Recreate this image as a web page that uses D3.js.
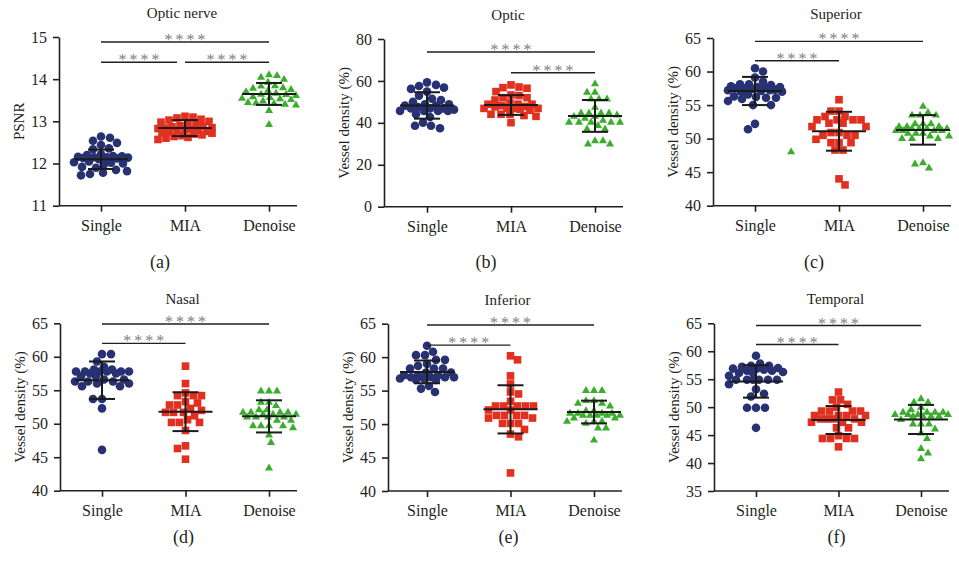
<!DOCTYPE html>
<html>
<head>
<meta charset="utf-8">
<script src="https://cdn.jsdelivr.net/npm/d3@7"></script>
<style>
  body { margin: 0; background: #fff; }
  svg { display: block; }
  text { font-family: "Liberation Serif", "Times New Roman", serif; fill: #231f20; }
</style>
</head>
<body>
<svg id="chart" width="959" height="561"></svg>
<script>
// Groups and panel text
var groups = ["Single", "MIA", "Denoise"];
var panelTitles = ["Optic nerve", "Optic", "Superior", "Nasal", "Inferior", "Temporal"];
var panelLetters = ["(a)", "(b)", "(c)", "(d)", "(e)", "(f)"];
var yLabels = ["PSNR", "Vessel density (%)", "Vessel density (%)", "Vessel density (%)", "Vessel density (%)", "Vessel density (%)"];
var yDomains = [[11, 15], [0, 80], [40, 65], [40, 65], [40, 65], [35, 65]];
var yTicks = [
  [11, 12, 13, 14, 15],
  [0, 20, 40, 60, 80],
  [40, 45, 50, 55, 60, 65],
  [40, 45, 50, 55, 60, 65],
  [40, 45, 50, 55, 60, 65],
  [35, 40, 45, 50, 55, 60, 65]
];

// Values, one list per panel
var singleValues = [
  [12.64, 12.61, 12.54, 12.49, 12.44, 12.36, 12.34, 12.22, 12.2, 12.18, 12.17, 12.16, 12.15, 12.15, 12.14, 12.13, 12.12, 12.1, 12.05, 12.03, 12.02, 12.0, 11.98, 11.92, 11.9, 11.85, 11.82, 11.78, 11.75, 11.72],
  [59.3, 58.1, 57.6, 56.8, 56.2, 54.9, 53.0, 51.5, 50.9, 50.1, 48.9, 48.9, 48.2, 48.2, 47.5, 46.9, 46.9, 46.9, 46.3, 45.7, 45.7, 45.7, 45.7, 44.1, 42.8, 40.1, 38.6, 38.6, 37.4],
  [60.5, 60.0, 59.1, 58.5, 58.1, 58.1, 58.0, 57.8, 57.7, 57.7, 57.6, 57.5, 57.5, 57.4, 57.3, 57.2, 57.2, 57.1, 57.0, 57.0, 56.6, 56.3, 56.2, 56.1, 56.1, 55.9, 55.6, 55.0, 55.0, 52.2, 51.4],
  [60.4, 60.4, 59.3, 58.5, 58.1, 58.1, 57.8, 57.8, 57.8, 57.8, 57.8, 57.8, 57.5, 57.5, 57.1, 57.1, 56.6, 56.6, 56.3, 56.3, 56.3, 56.0, 56.0, 55.6, 55.6, 53.7, 53.7, 52.3, 46.1],
  [61.7, 60.8, 60.3, 60.3, 59.6, 59.6, 59.0, 58.7, 58.3, 58.3, 58.3, 57.7, 57.7, 57.3, 57.3, 57.3, 57.0, 57.0, 57.0, 57.0, 56.8, 56.8, 56.6, 56.6, 55.7, 55.3, 54.8],
  [59.2, 57.8, 57.4, 57.4, 57.2, 57.0, 56.9, 56.9, 56.7, 56.5, 56.5, 56.3, 56.1, 56.1, 55.6, 54.9, 54.9, 54.9, 54.9, 54.9, 54.9, 54.1, 53.2, 52.4, 51.9, 49.9, 49.9, 49.9, 46.3]
];
var miaValues = [
  [13.12, 13.1, 13.08, 13.05, 13.03, 13.0, 12.98, 12.95, 12.93, 12.9, 12.88, 12.87, 12.85, 12.84, 12.83, 12.82, 12.8, 12.79, 12.78, 12.76, 12.75, 12.73, 12.72, 12.7, 12.68, 12.66, 12.64, 12.62, 12.6, 12.57],
  [58.1, 57.1, 56.8, 56.5, 54.9, 53.3, 53.0, 52.0, 52.0, 50.9, 49.5, 48.9, 48.9, 48.9, 48.2, 47.8, 47.6, 46.9, 46.9, 46.9, 46.9, 46.5, 46.0, 44.1, 44.1, 44.1, 43.5, 43.1, 40.1],
  [55.8, 54.1, 54.1, 53.3, 53.3, 52.8, 52.8, 52.8, 52.8, 52.3, 52.3, 51.8, 51.8, 50.9, 50.9, 50.5, 50.5, 50.5, 49.9, 49.4, 49.4, 49.4, 48.3, 48.3, 44.0, 43.1],
  [58.6, 56.0, 54.6, 54.2, 54.2, 54.2, 53.3, 53.1, 52.8, 52.8, 52.3, 52.0, 51.7, 51.7, 51.7, 51.2, 50.6, 50.2, 50.2, 50.2, 49.0, 46.7, 46.3, 44.7],
  [60.2, 59.6, 57.2, 56.0, 54.8, 54.5, 53.4, 52.7, 52.7, 52.7, 52.7, 52.7, 52.1, 52.1, 51.3, 51.3, 51.3, 51.3, 50.9, 50.9, 50.1, 50.1, 50.1, 49.2, 48.5, 48.1, 42.7],
  [52.7, 51.3, 51.3, 50.5, 50.0, 49.3, 49.3, 49.3, 49.3, 48.5, 48.5, 48.5, 48.5, 47.9, 47.9, 47.9, 47.9, 47.3, 47.3, 47.3, 46.3, 46.3, 44.9, 44.4, 44.4, 44.4, 44.4, 42.9]
];
var denoiseValues = [
  [14.12, 14.1, 14.06, 14.01, 13.94, 13.86, 13.85, 13.81, 13.8, 13.77, 13.75, 13.72, 13.68, 13.66, 13.65, 13.63, 13.6, 13.58, 13.56, 13.55, 13.53, 13.5, 13.46, 13.45, 13.44, 13.42, 13.4, 13.27, 12.94],
  [58.9, 54.9, 54.9, 51.7, 51.7, 51.7, 47.7, 45.0, 45.0, 45.0, 45.0, 44.0, 43.4, 43.4, 42.5, 41.5, 40.6, 40.6, 40.6, 40.6, 40.6, 39.0, 37.4, 37.4, 31.8, 31.8, 30.2, 30.2],
  [54.9, 54.0, 53.6, 53.6, 53.6, 52.3, 52.3, 52.3, 51.9, 51.9, 51.9, 51.6, 51.6, 51.6, 51.6, 51.3, 51.3, 51.3, 51.3, 50.9, 50.9, 50.9, 50.5, 50.5, 50.1, 50.1, 50.1, 46.5, 46.3, 45.7],
  [55.0, 55.0, 55.0, 53.3, 53.3, 52.8, 52.2, 52.2, 51.8, 51.8, 51.8, 51.8, 51.5, 51.5, 51.5, 51.1, 51.1, 51.1, 51.1, 50.6, 50.6, 49.8, 49.8, 49.8, 49.8, 49.5, 48.4, 47.3, 43.5],
  [55.1, 55.1, 55.1, 53.6, 53.6, 53.2, 53.2, 52.8, 52.1, 52.1, 51.7, 51.7, 51.7, 51.7, 51.4, 51.4, 51.4, 51.4, 51.4, 51.0, 51.0, 50.5, 50.5, 50.5, 50.2, 49.5, 49.5, 47.7],
  [51.6, 51.0, 51.0, 50.1, 49.7, 49.2, 49.2, 49.2, 49.2, 48.8, 48.8, 48.8, 48.8, 48.5, 48.5, 48.5, 48.5, 47.9, 47.1, 47.1, 47.1, 46.2, 45.5, 44.5, 42.7, 41.9, 40.9]
];

// Mean and SD lines as drawn (Single, MIA, Denoise)
var meanValues = [[12.1, 12.84, 13.65], [48.3, 48.5, 43.3], [57.1, 51.1, 51.3], [56.5, 51.8, 51.1], [57.8, 52.2, 51.8], [54.6, 47.7, 47.8]];
var sdValues = [[0.23, 0.19, 0.26], [6.3, 4.7, 7.6], [2.1, 2.9, 2.2], [2.8, 2.9, 2.4], [1.7, 3.6, 1.7], [2.9, 2.5, 2.6]];

// Significance brackets: [from group, to group, level on y scale]
var sigBars = [
  [[0, 2, 14.88], [0, 1, 14.4], [1, 2, 14.4]],
  [[0, 2, 73.8], [1, 2, 63.9]],
  [[0, 2, 64.5], [0, 1, 61.6]],
  [[0, 2, 64.9], [0, 1, 62.0]],
  [[0, 2, 64.8], [0, 1, 61.8]],
  [[0, 2, 64.6], [0, 1, 61.2]]
];
var sigLabel = "****";

// the odd green point sitting between Single and MIA in (c): [panel, group position, value]
var strayPoints = [[2, 0.43, 48.0]];

var colors = ["#283272", "#e1301f", "#3aad2c"];

// panel frames
var layout = [
  { axisX: 59, c0: 101, c2: 269, top: 37, bottom: 205.7, letterY: 268, letterShift: -25 },
  { axisX: 384, c0: 427, c2: 595, top: 39, bottom: 206.7, letterY: 268, letterShift: -25 },
  { axisX: 713, c0: 755, c2: 923, top: 38, bottom: 205.7, letterY: 268, letterShift: -25 },
  { axisX: 60, c0: 102, c2: 269, top: 323.3, bottom: 490.7, letterY: 543, letterShift: -2 },
  { axisX: 388, c0: 427, c2: 594, top: 323.7, bottom: 491, letterY: 543, letterShift: -2 },
  { axisX: 714, c0: 756, c2: 921, top: 323.3, bottom: 491, letterY: 543, letterShift: -2 }
];

var svg = d3.select("#chart");

var circleR = 4.3;
var squareSym = d3.symbol().type(d3.symbolSquare).size(58);
var triSym = d3.symbol().type(d3.symbolTriangle).size(28);
var collide = [8.4, 8.0, 7.6];
var maxHalf = 27;

// simple beeswarm: place each point at the nearest free horizontal offset
function swarm(vals, y, dist) {
  var pts = vals.map(function (v) { return { v: v, py: y(v) }; })
    .sort(function (a, b) { return a.py - b.py; });
  var placed = [];
  pts.forEach(function (p, i) {
    var best = 0, bestScore = -1;
    var side = i % 2 ? 1 : -1;
    for (var k = 0; k <= maxHalf * 2; k++) {
      var off = side * (k % 2 ? 1 : -1) * Math.ceil(k / 2);
      var minD = Infinity;
      placed.forEach(function (q) {
        var d = Math.hypot(q.dx - off, q.py - p.py);
        if (d < minD) minD = d;
      });
      if (minD >= dist) { best = off; bestScore = Infinity; break; }
      if (minD > bestScore) { bestScore = minD; best = off; }
    }
    p.dx = best;
    placed.push(p);
  });
  return pts;
}

layout.forEach(function (L, pi) {
  var g = svg.append("g");
  var y = d3.scaleLinear().domain(yDomains[pi]).range([L.bottom, L.top]);
  var x = d3.scalePoint().domain(groups).range([L.c0, L.c2]);
  var xIndex = d3.scaleLinear().domain([0, 2]).range([L.c0, L.c2]);
  var right = L.c2 + 28;

  // y axis
  var yAxis = g.append("g")
    .attr("transform", "translate(" + L.axisX + ",0)")
    .call(d3.axisLeft(y).tickValues(yTicks[pi]).tickFormat(d3.format("d"))
      .tickSize(6).tickSizeOuter(0).tickPadding(6));
  yAxis.selectAll("text").style("font-size", "16px");

  // x axis
  var xAxis = g.append("g")
    .attr("transform", "translate(0," + L.bottom + ")")
    .call(d3.axisBottom(x).tickSize(6).tickPadding(8));
  xAxis.select(".domain").remove();
  xAxis.selectAll("text").style("font-size", "16px");
  g.append("line")
    .attr("x1", L.axisX).attr("x2", right)
    .attr("y1", L.bottom).attr("y2", L.bottom)
    .attr("stroke", "#231f20").attr("stroke-width", 1.6);
  g.selectAll(".domain, .tick line").attr("stroke", "#231f20").attr("stroke-width", 1.6);

  // titles
  g.append("text")
    .attr("x", x("MIA") - 3).attr("y", L.top - 19)
    .attr("text-anchor", "middle").style("font-size", "15px")
    .text(panelTitles[pi]);
  g.append("text")
    .attr("transform", "translate(" + (L.axisX - 40) + "," + ((L.top + L.bottom) / 2) + ") rotate(-90)")
    .attr("text-anchor", "middle").attr("dy", "0.35em").style("font-size", "15px")
    .text(yLabels[pi]);
  g.append("text")
    .attr("x", x("MIA") + L.letterShift).attr("y", L.letterY)
    .attr("text-anchor", "middle").style("font-size", "18px")
    .text(panelLetters[pi]);

  // points
  var series = [singleValues[pi], miaValues[pi], denoiseValues[pi]];
  series.forEach(function (vals, gi) {
    var pts = swarm(vals, y, collide[gi]);
    var cx = x(groups[gi]);
    var sel = g.append("g").selectAll("path").data(pts).enter();
    if (gi === 0) {
      sel.append("circle")
        .attr("cx", function (d) { return cx + d.dx; })
        .attr("cy", function (d) { return d.py; })
        .attr("r", circleR).attr("fill", colors[0]);
    } else {
      sel.append("path")
        .attr("d", gi === 1 ? squareSym : triSym)
        .attr("transform", function (d) { return "translate(" + (cx + d.dx) + "," + (d.py + (gi === 2 ? 0.8 : 0)) + ")"; })
        .attr("fill", colors[gi]);
    }
  });

  strayPoints.filter(function (s) { return s[0] === pi; }).forEach(function (s) {
    g.append("path").attr("d", triSym)
      .attr("transform", "translate(" + xIndex(s[1]) + "," + y(s[2]) + ")")
      .attr("fill", colors[2]);
  });

  // mean and SD bars
  groups.forEach(function (name, gi) {
    var cx = x(name), m = meanValues[pi][gi], s = sdValues[pi][gi];
    var eb = g.append("g").attr("stroke", "#1a1a1a").attr("stroke-width", 2);
    eb.append("line").attr("x1", cx).attr("x2", cx).attr("y1", y(m + s)).attr("y2", y(m - s));
    eb.append("line").attr("x1", cx - 27).attr("x2", cx + 27).attr("y1", y(m)).attr("y2", y(m));
    [m + s, m - s].forEach(function (v) {
      eb.append("line").attr("x1", cx - 13).attr("x2", cx + 13).attr("y1", y(v)).attr("y2", y(v));
    });
  });

  // significance brackets
  sigBars[pi].forEach(function (b) {
    var shared = sigBars[pi].filter(function (o) { return o !== b && o[2] === b[2]; });
    var x1 = xIndex(b[0]), x2 = xIndex(b[1]);
    shared.forEach(function (o) {
      if (o[0] === b[1]) x2 -= 8;
    });
    var yy = y(b[2]);
    g.append("line").attr("x1", x1).attr("x2", x2).attr("y1", yy).attr("y2", yy)
      .attr("stroke", "#231f20").attr("stroke-width", 1.4);
    g.append("text")
      .attr("x", (x1 + x2) / 2 + 1.5).attr("y", yy + 3)
      .attr("text-anchor", "middle")
      .style("font-size", "16px").style("letter-spacing", "3px").style("fill", "#808080")
      .text(sigLabel);
  });
});
</script>
</body>
</html>
